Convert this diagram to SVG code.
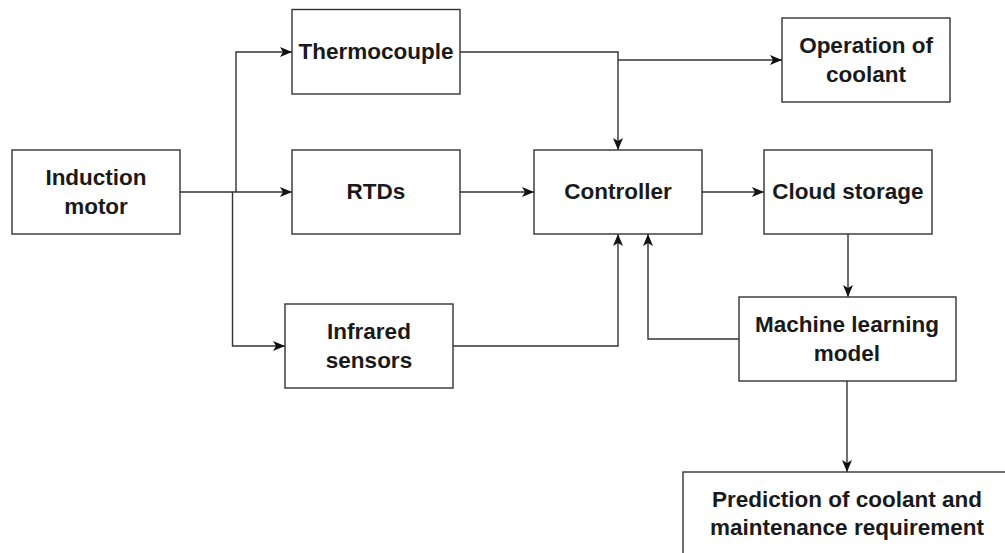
<svg xmlns="http://www.w3.org/2000/svg" width="1005" height="553" viewBox="0 0 1005 553">
<style>
.box{fill:#ffffff;stroke:#333333;stroke-width:1.4}
.lbl{font-family:"Liberation Sans",Arial,sans-serif;font-weight:bold;font-size:22.5px;fill:#1a1a1a;text-anchor:middle}
.ln{fill:none;stroke:#333333;stroke-width:1.4}
.arr{marker-end:url(#ah)}
</style>
<defs>
<marker id="ah" markerUnits="userSpaceOnUse" markerWidth="13" markerHeight="11" refX="12" refY="5.5" orient="auto">
<path d="M0,0.5 L12,5.5 L0,10.5 L3,5.5 Z" fill="#111111"/>
</marker>
</defs>
<rect width="1005" height="553" fill="#ffffff"/>
<g id="connectors">
<polyline class="ln arr" points="180,192 292,192"/>
<polyline class="ln arr" points="236,192 236,52 292,52"/>
<polyline class="ln arr" points="232.5,192 232.5,346 285,346"/>
<polyline class="ln arr" points="460,52 618,52 618,150"/>
<polyline class="ln arr" points="618,60 782,60"/>
<polyline class="ln arr" points="460,192 534,192"/>
<polyline class="ln arr" points="453,346 618,346 618,234"/>
<polyline class="ln arr" points="702,192 764,192"/>
<polyline class="ln arr" points="848,234 848,297"/>
<polyline class="ln arr" points="739,339 648,339 648,234"/>
<polyline class="ln arr" points="847,381 847,472"/>
</g>
<g id="induction-motor">
<rect class="box" x="12" y="150" width="168" height="84"/>
<text class="lbl" x="96" y="185">Induction</text>
<text class="lbl" x="96" y="214">motor</text>
</g>
<g id="thermocouple">
<rect class="box" x="292" y="9.5" width="168" height="84.5"/>
<text class="lbl" x="376" y="59">Thermocouple</text>
</g>
<g id="rtds">
<rect class="box" x="292" y="150" width="168" height="84"/>
<text class="lbl" x="376" y="199">RTDs</text>
</g>
<g id="infrared-sensors">
<rect class="box" x="285" y="304" width="168" height="84"/>
<text class="lbl" x="369" y="339">Infrared</text>
<text class="lbl" x="369" y="368">sensors</text>
</g>
<g id="controller">
<rect class="box" x="534" y="150" width="168" height="84"/>
<text class="lbl" x="618" y="199">Controller</text>
</g>
<g id="operation-of-coolant">
<rect class="box" x="782" y="18" width="168" height="84"/>
<text class="lbl" x="866" y="53">Operation of</text>
<text class="lbl" x="866" y="82">coolant</text>
</g>
<g id="cloud-storage">
<rect class="box" x="764" y="150" width="168" height="84"/>
<text class="lbl" x="848" y="199">Cloud storage</text>
</g>
<g id="machine-learning-model">
<rect class="box" x="739" y="297" width="217" height="84"/>
<text class="lbl" x="847" y="332">Machine learning</text>
<text class="lbl" x="847" y="361">model</text>
</g>
<g id="prediction">
<rect class="box" x="683" y="472" width="340" height="95"/>
<text class="lbl" x="847" y="507">Prediction of coolant and</text>
<text class="lbl" x="847" y="535">maintenance requirement</text>
</g>
</svg>
